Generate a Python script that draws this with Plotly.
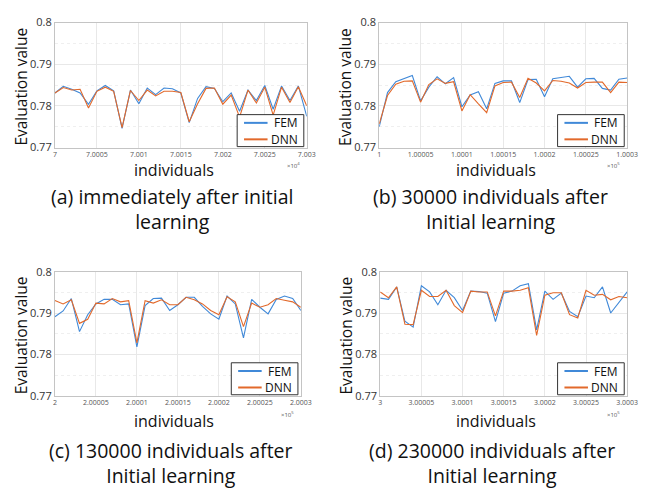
import plotly.graph_objects as go

# ---------------- data ----------------
individuals_a = list(range(70000, 70031))
individuals_b = list(range(100000, 100031))
individuals_c = list(range(200000, 200031))
individuals_d = list(range(300000, 300031))

fem_a = [0.7831, 0.7847, 0.7840, 0.7831, 0.7804, 0.7836, 0.7849, 0.7836, 0.7746, 0.7838,
         0.7805, 0.7843, 0.7827, 0.7843, 0.7841, 0.7831, 0.7760, 0.7818, 0.7846, 0.7842,
         0.7810, 0.7831, 0.7787, 0.7838, 0.7813, 0.7849, 0.7792, 0.7848, 0.7813, 0.7848, 0.7775]
dnn_a = [0.7831, 0.7844, 0.7838, 0.7840, 0.7795, 0.7835, 0.7845, 0.7835, 0.7748, 0.7837,
         0.7813, 0.7838, 0.7824, 0.7835, 0.7835, 0.7832, 0.7762, 0.7805, 0.7842, 0.7843,
         0.7804, 0.7826, 0.7773, 0.7838, 0.7807, 0.7845, 0.7778, 0.7845, 0.7808, 0.7846, 0.7800]

fem_b = [0.7750, 0.7832, 0.7858, 0.7866, 0.7873, 0.7812, 0.7845, 0.7870, 0.7853, 0.7868,
         0.7798, 0.7826, 0.7834, 0.7793, 0.7854, 0.7860, 0.7860, 0.7808, 0.7863, 0.7864,
         0.7822, 0.7865, 0.7868, 0.7871, 0.7845, 0.7865, 0.7866, 0.7842, 0.7838, 0.7864, 0.7867]
dnn_b = [0.7757, 0.7825, 0.7852, 0.7859, 0.7860, 0.7809, 0.7851, 0.7865, 0.7854, 0.7858,
         0.7788, 0.7827, 0.7805, 0.7784, 0.7848, 0.7856, 0.7857, 0.7820, 0.7866, 0.7855,
         0.7836, 0.7861, 0.7859, 0.7855, 0.7843, 0.7856, 0.7857, 0.7857, 0.7832, 0.7857, 0.7856]

fem_c = [0.7891, 0.7905, 0.7935, 0.7855, 0.7896, 0.7922, 0.7933, 0.7933, 0.7920, 0.7922,
         0.7818, 0.7918, 0.7935, 0.7936, 0.7906, 0.7920, 0.7938, 0.7938, 0.7916, 0.7898,
         0.7885, 0.7941, 0.7922, 0.7840, 0.7933, 0.7914, 0.7898, 0.7933, 0.7941, 0.7935, 0.7906]
dnn_c = [0.7930, 0.7922, 0.7932, 0.7875, 0.7885, 0.7924, 0.7922, 0.7935, 0.7927, 0.7930,
         0.7828, 0.7930, 0.7924, 0.7932, 0.7920, 0.7920, 0.7938, 0.7932, 0.7922, 0.7906,
         0.7896, 0.7939, 0.7927, 0.7867, 0.7924, 0.7914, 0.7920, 0.7935, 0.7931, 0.7927, 0.7914]

fem_d = [0.7936, 0.7933, 0.7963, 0.7880, 0.7866, 0.7966, 0.7951, 0.7920, 0.7955, 0.7937,
         0.7906, 0.7953, 0.7952, 0.7948, 0.7879, 0.7948, 0.7953, 0.7966, 0.7971, 0.7859,
         0.7953, 0.7933, 0.7948, 0.7904, 0.7891, 0.7941, 0.7937, 0.7963, 0.7900, 0.7927, 0.7951]
dnn_d = [0.7951, 0.7937, 0.7963, 0.7873, 0.7872, 0.7955, 0.7940, 0.7940, 0.7955, 0.7918,
         0.7901, 0.7953, 0.7951, 0.7951, 0.7893, 0.7953, 0.7953, 0.7955, 0.7961, 0.7846,
         0.7943, 0.7949, 0.7949, 0.7896, 0.7888, 0.7955, 0.7943, 0.7945, 0.7932, 0.7940, 0.7937]

ticktext_a = ["7", "7.0005", "7.001", "7.0015", "7.002", "7.0025", "7.003"]
ticktext_b = ["1", "1.00005", "1.0001", "1.00015", "1.0002", "1.00025", "1.0003"]
ticktext_c = ["2", "2.00005", "2.0001", "2.00015", "2.0002", "2.00025", "2.0003"]
ticktext_d = ["3", "3.00005", "3.0001", "3.00015", "3.0002", "3.00025", "3.0003"]
exponents = ["4", "5", "5", "5"]

y_ticks = [0.77, 0.78, 0.79, 0.8]
y_ticktext = ["0.77", "0.78", "0.79", "0.8"]

series_names = ["FEM", "DNN"]

captions = [
    "(a) immediately after initial<br>learning",
    "(b) 30000 individuals after<br>Initial learning",
    "(c) 130000 individuals after<br>Initial learning",
    "(d) 230000 individuals after<br>Initial learning",
]

FEM_COLOR = "#4089d8"
DNN_COLOR = "#e2692b"
COLORS = [FEM_COLOR, DNN_COLOR]
FONT = "Open Sans"

W, H = 646, 489
# plot areas in pixels: (left, right, top, bottom)
boxes = [(54, 311, 15, 144), (385, 638, 15, 144), (54, 305, 272, 400), (386, 638, 272, 400)]
title_cx = [176, 504, 176, 504]
title_dy = [23, 23, 26, 26]
caption_cx = [174, 499, 172, 500]
caption_dy = [63, 63, 69, 69]   # centre of the two-line caption below the plot bottom

panels = [
    (individuals_a, fem_a, dnn_a, ticktext_a),
    (individuals_b, fem_b, dnn_b, ticktext_b),
    (individuals_c, fem_c, dnn_c, ticktext_c),
    (individuals_d, fem_d, dnn_d, ticktext_d),
]


def px(x):
    return x / W


def py(y):
    return 1 - y / H


fig = go.Figure()
annotations = []
shapes = []
layout = {}
for k, ((xs, fem, dnn, ttext), (l, r, t, b)) in enumerate(zip(panels, boxes)):
    n = "" if k == 0 else str(k + 1)
    for name, ys, col in zip(series_names, [fem, dnn], COLORS):
        fig.add_trace(go.Scatter(x=xs, y=ys, mode="lines", name=name,
                                 line=dict(color=col, width=1.1),
                                 xaxis=f"x{n}", yaxis=f"y{n}", showlegend=False))
    tvals = [xs[0] + 5 * i for i in range(len(ttext))]
    layout[f"xaxis{n}"] = dict(
        domain=[px(l), px(r)], anchor=f"y{n}", range=[xs[0], xs[-1]],
        tickvals=tvals, ticktext=ttext, tickfont=dict(size=7, color="#555", family=FONT),
        showgrid=True, gridcolor="#e8e8e8", gridwidth=1,
        showline=True, linecolor="#c4c4c4", mirror=True, zeroline=False,
        ticks="", ticklen=0)
    layout[f"yaxis{n}"] = dict(
        domain=[py(b), py(t)], anchor=f"x{n}", range=[0.77, 0.8],
        tickvals=y_ticks, ticktext=y_ticktext, tickfont=dict(size=11, color="#333", family=FONT),
        showgrid=True, gridcolor="#e8e8e8", gridwidth=1,
        minor=dict(dtick=0.005, tick0=0.77, showgrid=True, gridcolor="#efefef", griddash="dot"),
        showline=True, linecolor="#c4c4c4", mirror=True, zeroline=False,
        ticks="", ticklen=0)

    # legend box (lower right corner of each panel)
    lr, lb = r - 3, b - 1
    ll, lt = lr - 68, lb - 33
    shapes.append(dict(type="rect", xref="paper", yref="paper",
                       x0=px(ll), x1=px(lr), y0=py(lb), y1=py(lt),
                       fillcolor="white", line=dict(color="#333", width=1)))
    for j, (name, col) in enumerate(zip(series_names, COLORS)):
        yy = lt + 8.5 + j * 17
        shapes.append(dict(type="line", xref="paper", yref="paper",
                           x0=px(ll + 7), x1=px(ll + 31), y0=py(yy), y1=py(yy),
                           line=dict(color=col, width=2)))
        annotations.append(dict(text=name, x=px(lr - 4), y=py(yy), xref="paper", yref="paper",
                                showarrow=False, xanchor="right", yanchor="middle",
                                font=dict(size=12, color="#111", family=FONT)))

    # y title
    annotations.append(dict(text="Evaluation value", x=px(l - 35), y=py((t + b) / 2 + 2),
                            xref="paper", yref="paper", textangle=-90, showarrow=False,
                            xanchor="center", yanchor="middle",
                            font=dict(size=15.5, color="#111", family=FONT)))
    # x title
    annotations.append(dict(text="individuals", x=px(title_cx[k]), y=py(b + title_dy[k]),
                            xref="paper", yref="paper", showarrow=False,
                            xanchor="center", yanchor="middle",
                            font=dict(size=16, color="#111", family=FONT)))
    # exponent
    annotations.append(dict(text=f"×10<sup>{exponents[k]}</sup>", x=px(r - 14), y=py(b + 19),
                            xref="paper", yref="paper", showarrow=False,
                            xanchor="center", yanchor="middle",
                            font=dict(size=6, color="#555", family=FONT)))
    # caption
    annotations.append(dict(text=captions[k], x=px(caption_cx[k]), y=py(b + caption_dy[k]),
                            xref="paper", yref="paper", showarrow=False,
                            xanchor="center", yanchor="middle", align="center",
                            font=dict(size=19.5, color="#111", family=FONT)))

fig.update_layout(
    width=W, height=H, margin=dict(l=0, r=0, t=0, b=0),
    paper_bgcolor="white", plot_bgcolor="white",
    showlegend=False, annotations=annotations, shapes=shapes, **layout)

fig.write_html("out.html", config={"displayModeBar": False},
               post_script="document.body.style.margin='0';")
